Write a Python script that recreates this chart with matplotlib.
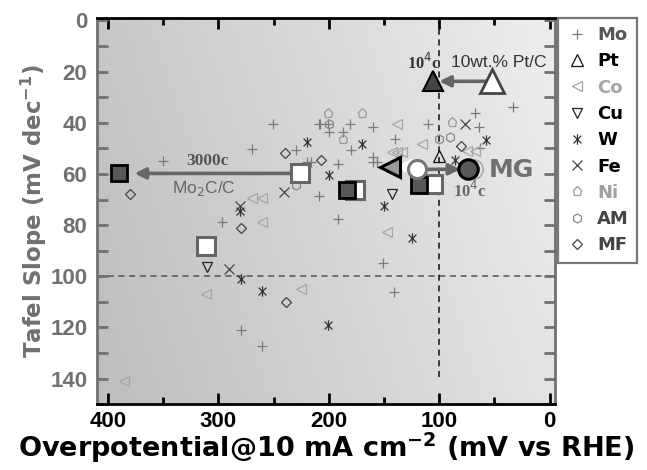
import numpy as np
import matplotlib
matplotlib.use("Agg")
import matplotlib.pyplot as plt
from matplotlib.ticker import MultipleLocator
from matplotlib.path import Path

plt.rcParams['font.family'] = ['Liberation Sans', 'DejaVu Sans']
plt.rcParams['mathtext.fontset'] = 'dejavusans'

# ---------------- data (overpotential mV, Tafel slope mV/dec) ----------------
mo_x = [251, 209, 208, 201, 200, 187, 181, 160, 140, 110, 68, 64, 33.5, 180, 230, 270, 350,
        220, 216, 192, 160, 160, 156, 63, 209, 297, 192, 151, 141, 280, 261]
mo_y = [40.4, 40.4, 40.4, 40.4, 43.6, 43.6, 40.4, 41.6, 46.4, 40.4, 36, 41.6, 33.7, 50.7, 50.7, 50.3, 55,
        55.5, 55.5, 56.2, 53.5, 55.5, 55.5, 49.9, 68.5, 78.8, 77.6, 95, 106, 121, 127.4]
pt_x = [100]
pt_y = [53]
co_x = [138, 116, 143, 138, 134, 75, 68, 261, 270, 261, 147.5, 311, 225, 386]
co_y = [40.4, 48.3, 51.5, 51.5, 51.5, 51, 51, 69.3, 69.3, 78.8, 82.7, 106.8, 104.9, 140.8]
cu_x = [143, 310]
cu_y = [68, 96.2]
w_x = [220, 170, 58, 200, 86, 150, 280.5, 280, 261, 125, 201]
w_y = [47.5, 48.3, 46.8, 60.6, 54.7, 72.5, 74.4, 100.9, 105.7, 85.1, 119]
fe_x = [77, 241, 280.5, 290.5]
fe_y = [40.4, 66.9, 72.5, 97]
ni_x = [201, 170, 187, 88]
ni_y = [36, 36, 46.4, 39.6]
am_x = [200, 90, 100, 230]
am_y = [40.4, 45.6, 46.4, 64.2]
mf_x = [240, 207, 80.5, 380, 280, 239]
mf_y = [51.9, 54.7, 49.1, 67.7, 81.1, 110]

# highlighted catalysts: before (white) / after (dark)
mo2c_before = (226, 59.8)
mo2c_after = (390, 59.8)
sq_before_x = [176.5, 106, 311]
sq_before_y = [66.2, 63.8, 88.3]
sq_after_x = [184, 118]
sq_after_y = [66.2, 64.2]
tri_before = (133, 57.4)
tri_after = (145, 57.4)
mg_before = (120, 58.2)
mg_after = (74, 58.2)
mg_ghost = (69, 58.2)
ptc_before = (52.5, 23.8)
ptc_after = (106, 23.8)

legend_labels = ['Mo', 'Pt', 'Co', 'Cu', 'W', 'Fe', 'Ni', 'AM', 'MF']

BOLDF = ['DejaVu Sans']

# asterisk marker: vertical bar + x
ast = Path([(0, -1), (0, 1), (-0.75, -0.75), (0.75, 0.75), (-0.75, 0.75), (0.75, -0.75)],
           [Path.MOVETO, Path.LINETO, Path.MOVETO, Path.LINETO, Path.MOVETO, Path.LINETO])

# ---------------- figure ----------------
fig = plt.figure(figsize=(6.47, 4.70), dpi=100)
ax = fig.add_axes([0.150, 0.140, 0.708, 0.822])
ax.set_xlim(410, -5)
ax.set_ylim(150, -1)

# gradient background
gx = np.linspace(0, 1, 200)
gy = np.linspace(0, 1, 200)
GX, GY = np.meshgrid(gx, gy)
grad = 0.74 + 0.15 * GX + 0.04 * GY
ax.imshow(grad, extent=[0, 1, 0, 1], transform=ax.transAxes, origin='lower',
          cmap='gray', vmin=0, vmax=1, aspect='auto', zorder=0, interpolation='bilinear')

# reference dashed lines
ax.plot([410, -5], [100, 100], ls=(0, (4, 3)), color='#555555', lw=1.1, zorder=1)
ax.plot([100, 100], [-1, 141], ls=(0, (4, 3)), color='#111111', lw=1.1, zorder=1)

ms = 6.5
kw = dict(ls='none', markerfacecolor='none', markeredgewidth=0.9)
h_mo, = ax.plot(mo_x, mo_y, marker='+', color='#7a7a7a', ms=ms + 1, **kw)
h_pt, = ax.plot(pt_x, pt_y, marker='^', color='#111111', ms=ms + 1.5, **kw)
h_co, = ax.plot(co_x, co_y, marker='<', color='#a5a5a5', ms=ms, **kw)
h_cu, = ax.plot(cu_x, cu_y, marker='v', color='#222222', ms=ms, **kw)
h_w, = ax.plot(w_x, w_y, marker=ast, color='#333333', ms=ms + 1, **kw)
h_fe, = ax.plot(fe_x, fe_y, marker='x', color='#444444', ms=ms, **kw)
h_ni, = ax.plot(ni_x, ni_y, marker='p', color='#9a9a9a', ms=ms, **kw)
h_am, = ax.plot(am_x, am_y, marker='h', color='#888888', ms=ms, **kw)
h_mf, = ax.plot(mf_x, mf_y, marker='D', color='#444444', ms=ms - 1, **kw)

# highlighted markers
arrow_kw = dict(arrowstyle='-|>', color='#666666', lw=2.6, mutation_scale=16,
                shrinkA=0, shrinkB=0)
ax.annotate('', xy=(mo2c_after[0] - 14, mo2c_after[1]), xytext=mo2c_before,
            arrowprops=arrow_kw, zorder=4)
ax.plot(*mo2c_before, marker='s', ms=13, mfc='white', mec='#666666', mew=2.2, zorder=5)
ax.plot(*mo2c_after, marker='s', ms=11, mfc='#585858', mec='black', mew=2.0, zorder=5)

ax.plot(sq_before_x, sq_before_y, ls='none', marker='s', ms=13, mfc='white', mec='#666666',
        mew=2.2, zorder=5)
ax.plot(sq_after_x, sq_after_y, ls='none', marker='s', ms=11, mfc='#585858', mec='black',
        mew=2.0, zorder=6)

ax.plot(*tri_before, marker='<', ms=15, mfc='white', mec='#dddddd', mew=1.5, zorder=5)
ax.plot(*tri_after, marker='<', ms=15, mfc='#9a9a9a', mec='black', mew=2.2, zorder=6)

ax.plot(*mg_ghost, marker='o', ms=14, mfc='none', mec='#aaaaaa', mew=1.2, zorder=5)
ax.annotate('', xy=(mg_after[0] + 7, mg_after[1]), xytext=mg_before,
            arrowprops=arrow_kw, zorder=6)
ax.plot(*mg_before, marker='o', ms=13, mfc='white', mec='#777777', mew=2.2, zorder=7)
ax.plot(*mg_after, marker='o', ms=14, mfc='#585858', mec='black', mew=2.2, zorder=7)

ax.annotate('', xy=(ptc_after[0] - 6, ptc_after[1]), xytext=ptc_before,
            arrowprops=arrow_kw, zorder=4)
ax.plot(*ptc_before, marker='^', ms=17, mfc='white', mec='#444444', mew=2.0, zorder=5)
ax.plot(*ptc_after, marker='^', ms=14, mfc='#444444', mec='black', mew=1.5, zorder=5)

# annotations
ax.text(310, 55, '3000c', family=['Liberation Serif'], fontweight='bold', fontsize=12.5,
        color='#555555', ha='center', va='center', zorder=8)
ax.text(313, 65.5, 'Mo$_2$C/C', fontsize=12.5, color='#666666', ha='center', va='center',
        zorder=8)
ax.text(114, 16.5, '10$^4$c', family=['Liberation Serif'], fontweight='bold', fontsize=12,
        color='#333333', ha='center', va='center', zorder=8)
ax.text(46, 16.5, '10wt.% Pt/C', fontsize=12.5, color='#333333', ha='center', va='center',
        zorder=8)
ax.text(35, 58.5, 'MG', family=BOLDF, fontsize=18, fontweight='bold', color='#707070',
        ha='center', va='center', zorder=8)
ax.text(72, 66.5, '10$^4$c', family=['Liberation Serif'], fontweight='bold', fontsize=12,
        color='#666666', ha='center', va='center', zorder=8)

# ticks and spines
ax.xaxis.set_major_locator(MultipleLocator(100))
ax.xaxis.set_minor_locator(MultipleLocator(50))
ax.yaxis.set_major_locator(MultipleLocator(20))
ax.yaxis.set_minor_locator(MultipleLocator(10))
ax.tick_params(axis='x', which='major', direction='in', length=8, width=2.0, color='black',
               top=True, bottom=True, labelsize=16, labelcolor='black', pad=5)
ax.tick_params(axis='x', which='minor', direction='in', length=5, width=2.0, color='black',
               top=True, bottom=True)
ax.tick_params(axis='y', which='both', direction='in', length=8, width=2.0, color='#707070',
               left=True, right=True, labelsize=16, labelcolor='#707070', pad=7)
for lab in ax.get_xticklabels() + ax.get_yticklabels():
    lab.set_fontweight('bold')
for s in ['left', 'right']:
    ax.spines[s].set_color('#707070')
    ax.spines[s].set_linewidth(2.0)
for s in ['top', 'bottom']:
    ax.spines[s].set_color('black')
    ax.spines[s].set_linewidth(2.0)

ax.set_xlabel('Overpotential@10 mA cm$^{\\mathbf{-2}}$ (mV vs RHE)', fontsize=19.5,
              family=BOLDF, fontweight='bold', color='black', labelpad=-1)
ax.set_ylabel('Tafel Slope (mV dec$^{\\mathbf{-1}}$)', fontsize=16.5, family=BOLDF,
              fontweight='bold', color='#707070', labelpad=1)

handles = [h_mo, h_pt, h_co, h_cu, h_w, h_fe, h_ni, h_am, h_mf]
leg = ax.legend(handles, legend_labels, loc='upper left', bbox_to_anchor=(1.007, 1.0),
                frameon=True, fancybox=False, prop={'family': BOLDF, 'weight': 'bold', 'size': 13},
                labelspacing=0.46, handletextpad=0.5, borderpad=0.45, handlelength=1.2,
                borderaxespad=0)
leg.get_frame().set_edgecolor('#555555')
leg.get_frame().set_linewidth(1.6)
label_colors = ['#555555', 'black', '#a5a5a5', 'black', 'black', 'black', '#a0a0a0',
                '#444444', '#444444']
for t, c in zip(leg.get_texts(), label_colors):
    t.set_color(c)

fig.savefig('out.png', dpi=100)
